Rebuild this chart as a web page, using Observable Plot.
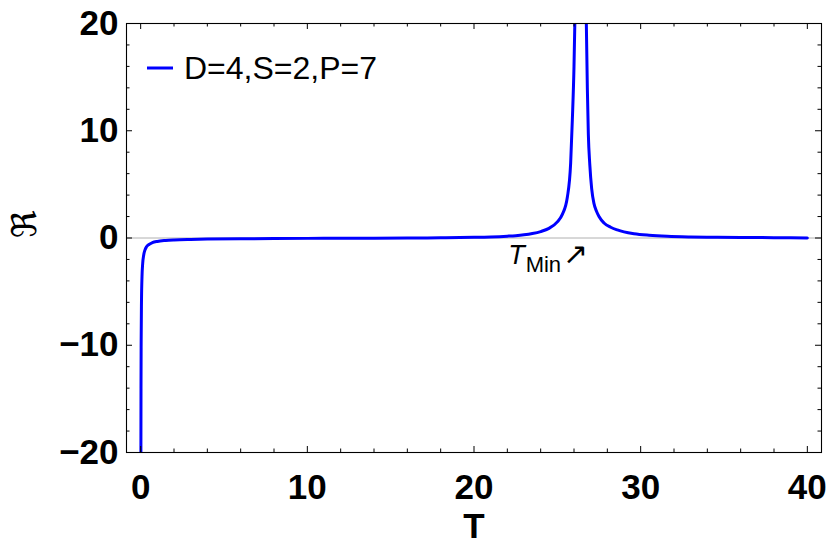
<!DOCTYPE html>
<html><head><meta charset="utf-8">
<script src="https://cdn.jsdelivr.net/npm/d3@7"></script>
<script src="https://cdn.jsdelivr.net/npm/@observablehq/plot@0.6"></script>
<style>
body{margin:0;background:#fff}
#chart{position:relative;width:830px;height:558px}
</style>
</head><body><div id="chart"></div>
<script>
// ---- data ----
const seriesName = "D=4,S=2,P=7";
const xLabel = "T";
const yLabel = "ℜ";
const tMinValue = 26.4;
// left branch: from the T→0 divergence up to the T_Min peak
const branch1T = [0.014, 0.02, 0.03, 0.05, 0.08, 0.12, 0.18, 0.25, 0.35, 0.5, 0.7, 1.0, 1.5, 2, 3, 4, 6, 8, 10, 12, 14, 16, 18, 20, 21, 22, 22.5, 23, 23.5, 24, 24.5, 25, 25.3, 25.6, 25.8, 25.9, 26.0, 26.05, 26.12];
const branch1R = [-20, -14, -9.5, -5.8, -3.6, -2.4, -1.6, -1.15, -0.82, -0.6, -0.44, -0.32, -0.23, -0.18, -0.13, -0.1, -0.07, -0.05, -0.035, -0.025, -0.015, 0, 0.02, 0.06, 0.1, 0.17, 0.22, 0.3, 0.42, 0.6, 0.9, 1.5, 2.2, 3.8, 7, 11, 16, 20, 28];
// right branch: from the T_Min peak to T = 40
const branch2T = [26.68, 26.74, 26.8, 26.86, 26.95, 27.06, 27.2, 27.35, 27.5, 27.8, 28.2, 28.6, 29, 29.6, 30.5, 31.6, 33, 34.6, 36, 38, 40];
const branch2R = [28, 20, 14, 9.7, 6.8, 4.6, 3.2, 2.5, 2.0, 1.4, 1.0, 0.75, 0.57, 0.4, 0.26, 0.16, 0.1, 0.07, 0.05, 0.03, 0.01];
const xTicks = [0, 10, 20, 30, 40];
const yTicks = [-20, -10, 0, 10, 20];
const xMinorTicks = [2, 4, 6, 8, 12, 14, 16, 18, 22, 24, 26, 28, 32, 34, 36, 38];
const yMinorTicks = [-18, -16, -14, -12, -8, -6, -4, -2, 2, 4, 6, 8, 12, 14, 16, 18];

// ---- build table ----
const rows = [
  ...branch1T.map((t, i) => ({T: t, R: branch1R[i], branch: "a"})),
  ...branch2T.map((t, i) => ({T: t, R: branch2R[i], branch: "b"}))
];

const W = 830, H = 558, mL = 126, mR = 9, mT = 23, mB = 106;
const plotW = W - mL - mR, plotH = H - mT - mB;
const font = "'Liberation Sans', Arial, Helvetica, sans-serif";
const blue = "#0000ff";
const major = 6, minor = 3.5;
const fmt = d => d < 0 ? "\u2212" + Math.abs(d) : String(d);

const chart = Plot.plot({
  width: W, height: H,
  marginLeft: mL, marginRight: mR, marginTop: mT, marginBottom: mB,
  style: {fontFamily: font, background: "white", color: "black"},
  x: {domain: [-0.85, 40.85]},
  y: {domain: [-20, 20]},
  marks: [
    Plot.ruleY([0], {stroke: "#b0b0b0", strokeWidth: 1}),
    Plot.line(rows, {x: "T", y: "R", z: "branch", stroke: blue, strokeWidth: 3, curve: "monotone-x", clip: true}),
    Plot.frame({stroke: "black", strokeWidth: 1.1}),
    Plot.tickX(xTicks, {x: d => d, insetTop: plotH - major, stroke: "black"}),
    Plot.tickX(xTicks, {x: d => d, insetBottom: plotH - major, stroke: "black"}),
    Plot.tickX(xMinorTicks, {x: d => d, insetTop: plotH - minor, stroke: "black"}),
    Plot.tickX(xMinorTicks, {x: d => d, insetBottom: plotH - minor, stroke: "black"}),
    Plot.tickY(yTicks, {y: d => d, insetRight: plotW - major, stroke: "black"}),
    Plot.tickY(yTicks, {y: d => d, insetLeft: plotW - major, stroke: "black"}),
    Plot.tickY(yMinorTicks, {y: d => d, insetRight: plotW - minor, stroke: "black"}),
    Plot.tickY(yMinorTicks, {y: d => d, insetLeft: plotW - minor, stroke: "black"}),
    Plot.axisX(xTicks, {tickSize: 0, tickPadding: 22, fontSize: 35, fontWeight: "bold", fill: "black", tickFormat: fmt, label: null}),
    Plot.axisY(yTicks, {tickSize: 0, tickPadding: 8, fontSize: 35, fontWeight: "bold", fill: "black", tickFormat: fmt, label: null}),
    Plot.text([xLabel], {text: d => d, frameAnchor: "bottom", dy: 85, fontSize: 35, fontWeight: "bold", fill: "black"}),
    Plot.text([yLabel], {text: d => d, frameAnchor: "left", dx: -101, rotate: -90, fontSize: 34, fontFamily: "'DejaVu Sans', sans-serif", fill: "black"})
  ]
});
document.getElementById("chart").appendChild(chart);

// ---- legend (inside the frame, top-left) ----
const svg = d3.select(chart);
const lg = svg.append("g").attr("class", "legend");
lg.append("line").attr("x1", mL + 21).attr("x2", mL + 47).attr("y1", 68).attr("y2", 68)
  .attr("stroke", blue).attr("stroke-width", 3);
lg.append("text").attr("x", mL + 58).attr("y", 68).attr("dy", "0.35em")
  .attr("text-anchor", "start")
  .attr("font-family", font).attr("font-size", 32).attr("fill", "black").text(seriesName);

// ---- T_Min annotation ----
const sx = chart.scale("x"), sy = chart.scale("y");
const ax = sx.apply(tMinValue), ay = sy.apply(0);
const ann = svg.append("text").attr("font-family", font).attr("fill", "black").attr("text-anchor", "start");
ann.append("tspan").attr("x", ax - 72).attr("y", ay + 26).attr("font-size", 27).attr("font-style", "italic").text("T");
ann.append("tspan").attr("dx", 1).attr("dy", 8).attr("font-size", 22).text("Min");
ann.append("tspan").attr("dx", 2).attr("dy", -8).attr("font-size", 30).attr("font-family", "'DejaVu Sans', sans-serif").text("↗");
</script>
</body></html>
